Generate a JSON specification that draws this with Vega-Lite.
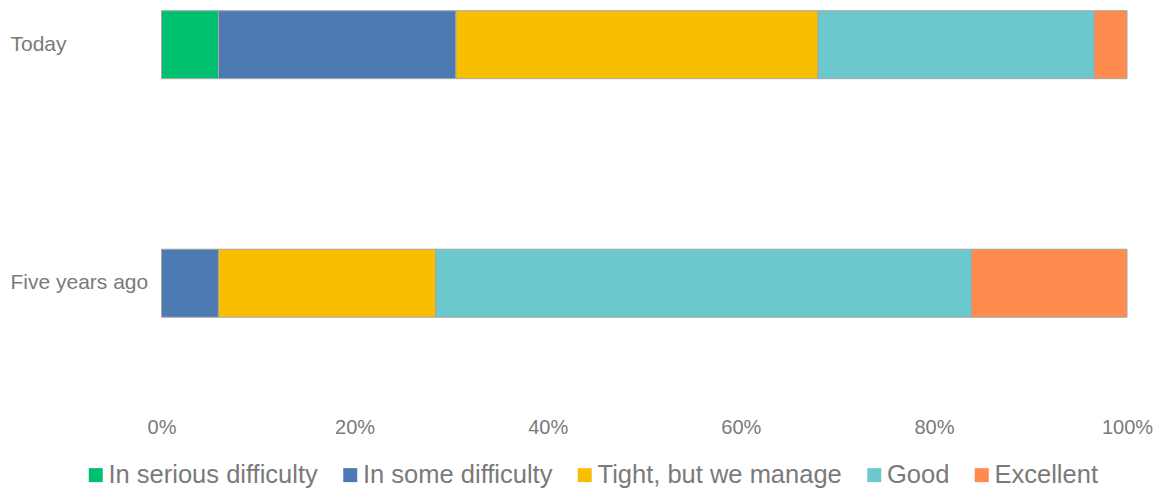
{
  "$schema": "https://vega.github.io/schema/vega-lite/v6.json",
  "width": 965.5,
  "height": 410,
  "autosize": {"type": "none"},
  "padding": {"left": 161.5, "top": 0, "right": 33, "bottom": 82},
  "config": {"view": {"stroke": null}, "font": "Liberation Sans"},
  "data": {
    "values": [
      {"period": "Today", "category": "In serious difficulty", "idx": 1, "pct": 5.9},
      {"period": "Today", "category": "In some difficulty", "idx": 2, "pct": 24.6},
      {"period": "Today", "category": "Tight, but we manage", "idx": 3, "pct": 37.5},
      {"period": "Today", "category": "Good", "idx": 4, "pct": 28.6},
      {"period": "Today", "category": "Excellent", "idx": 5, "pct": 3.4},
      {"period": "Five years ago", "category": "In some difficulty", "idx": 2, "pct": 5.9},
      {"period": "Five years ago", "category": "Tight, but we manage", "idx": 3, "pct": 22.5},
      {"period": "Five years ago", "category": "Good", "idx": 4, "pct": 55.5},
      {"period": "Five years ago", "category": "Excellent", "idx": 5, "pct": 16.1}
    ]
  },
  "mark": {"type": "bar", "stroke": "#a6a6a6", "strokeWidth": 1},
  "encoding": {
    "y": {
      "field": "period",
      "type": "nominal",
      "sort": ["Today", "Five years ago"],
      "scale": {"paddingInner": 0.715, "paddingOuter": 0.217, "align": 0.1034},
      "axis": {
        "title": null,
        "ticks": false,
        "tickSize": 0,
        "domain": false,
        "labelAlign": "left",
        "labelPadding": 151.5,
        "labelFontSize": 21,
        "labelColor": "#7a7a7a",
        "labelLimit": 300
      }
    },
    "x": {
      "field": "pct",
      "type": "quantitative",
      "stack": "zero",
      "scale": {"domain": [0, 100]},
      "axis": {
        "title": null,
        "values": [0, 20, 40, 60, 80, 100],
        "labelExpr": "datum.value + '%'",
        "grid": false,
        "domain": false,
        "ticks": false,
        "tickSize": 0,
        "labelFlush": false,
        "labelPadding": 7,
        "labelFontSize": 20,
        "labelColor": "#7a7a7a"
      }
    },
    "color": {
      "field": "category",
      "type": "nominal",
      "scale": {
        "domain": ["In serious difficulty", "In some difficulty", "Tight, but we manage", "Good", "Excellent"],
        "range": ["#00BF6F", "#4E7AB4", "#F8BF00", "#6BC8CC", "#FF8B4F"]
      },
      "legend": {
        "orient": "none",
        "legendX": -78.5,
        "legendY": 462,
        "direction": "horizontal",
        "title": null,
        "symbolType": "square",
        "symbolSize": 196,
        "symbolStrokeWidth": 0,
        "symbolOpacity": 1,
        "labelFontSize": 25.5,
        "labelColor": "#7a7a7a",
        "labelOffset": 0,
        "labelLimit": 400,
        "columnPadding": 19.5,
        "padding": 0
      }
    },
    "order": {"field": "idx", "type": "quantitative"}
  }
}
